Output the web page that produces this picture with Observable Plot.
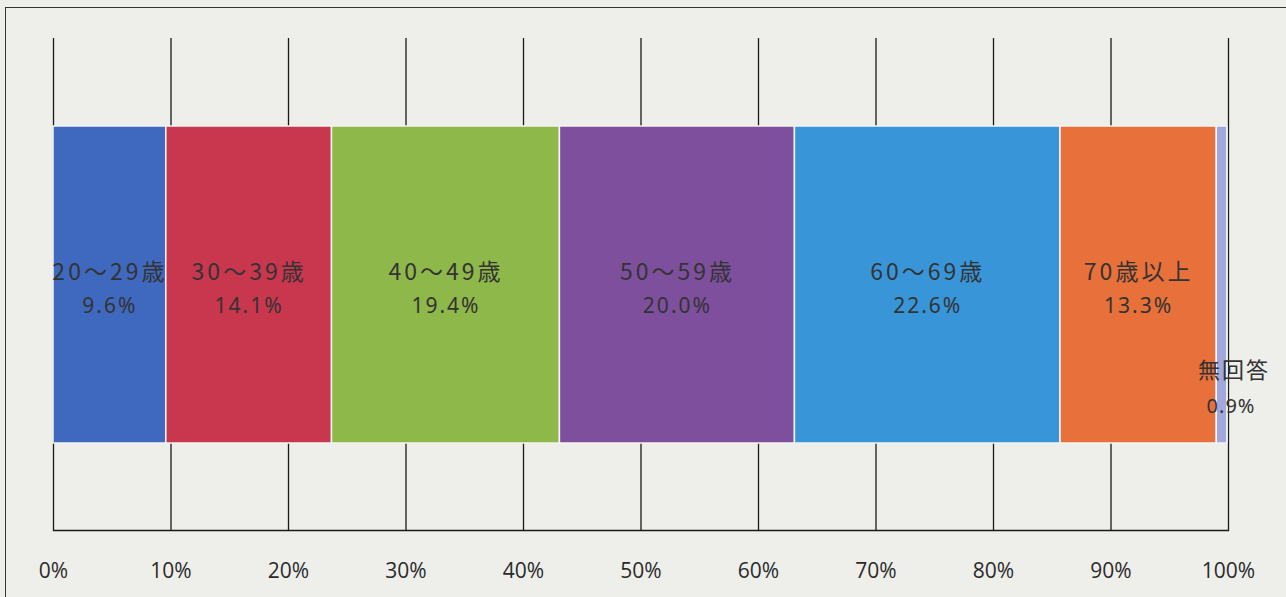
<!DOCTYPE html>
<html>
<head>
<meta charset="utf-8">
<script src="https://cdn.jsdelivr.net/npm/d3@7"></script>
<script src="https://cdn.jsdelivr.net/npm/@observablehq/plot@0.6"></script>
<style>
  html, body { margin: 0; padding: 0; background: #eeeeea; }
  #wrap { position: relative; width: 1286px; height: 597px; overflow: hidden; background: #eeeeea; }
  #frame { position: absolute; left: 5px; top: 7px; width: 1300px; height: 600px; border-left: 1.5px solid #333; border-top: 1.5px solid #333; }
  #chart { position: absolute; left: 0; top: 0; }
</style>
</head>
<body>
<div id="wrap"><div id="frame"></div><div id="chart"></div></div>
<script>
const categories = ["20～29歳", "30～39歳", "40～49歳", "50～59歳", "60～69歳", "70歳以上", "無回答"];
const values = [9.6, 14.1, 19.4, 20.0, 22.6, 13.3, 0.9];
const colors = ["#3f69bf", "#c9374f", "#8fb84a", "#7d4f9d", "#3895d8", "#e8703b", "#a0a8de"];
const tickValues = [0, 10, 20, 30, 40, 50, 60, 70, 80, 90, 100];
const tickLabels = ["0%", "10%", "20%", "30%", "40%", "50%", "60%", "70%", "80%", "90%", "100%"];

let cum = 0;
const rows = categories.map((c, i) => {
  const r = {cat: c, value: values[i], x1: cum, x2: cum + values[i], color: colors[i], grp: "回答者"};
  cum += values[i];
  r.mid = (r.x1 + r.x2) / 2;
  return r;
});
const main = rows.filter(d => d.cat !== "無回答");
const na = rows.filter(d => d.cat === "無回答");

const chart = Plot.plot({
  width: 1286,
  height: 597,
  marginLeft: 53,
  marginRight: 58,
  marginTop: 38,
  marginBottom: 67,
  style: {background: "transparent", overflow: "visible"},
  x: {domain: [0, 100]},
  y: {domain: ["回答者"], paddingInner: 0, paddingOuter: 0.276},
  color: {type: "identity"},
  marks: [
    Plot.gridX(tickValues, {stroke: "#1a1a1a", strokeOpacity: 1, strokeWidth: 1.3}),
    Plot.frame({anchor: "bottom", stroke: "#1a1a1a", strokeWidth: 1.3}),
    Plot.axisX(tickValues, {
      anchor: "bottom", tickSize: 0, tickPadding: 33,
      tickFormat: (d, i) => tickLabels[i],
      fontSize: 21, fontFamily: "Open Sans, Noto Sans, sans-serif", fill: "#2a2a2a", label: null
    }),
    Plot.axisY({ticks: [], label: null}),
    Plot.barX(rows, {x1: "x1", x2: "x2", y: "grp", fill: "color", stroke: "#f4f4f0", strokeWidth: 1.5}),
    Plot.text(main, {
      x: "mid", y: "grp", text: "cat", dy: -12,
      fontSize: 23, fontFamily: "Noto Sans CJK JP, sans-serif", fill: "#333"
    }),
    Plot.text(main, {
      x: "mid", y: "grp", text: d => d.value.toFixed(1) + "%", dy: 21,
      fontSize: 21, fontFamily: "Noto Sans, sans-serif", fill: "#333"
    }),
    Plot.text(na, {
      x: "mid", y: "grp", text: "cat", dy: 86, dx: 12,
      fontSize: 22, fontFamily: "Noto Sans CJK JP, sans-serif", fill: "#333"
    }),
    Plot.text(na, {
      x: "mid", y: "grp", text: d => d.value.toFixed(1) + "%", dy: 122, dx: 9,
      fontSize: 20, fontFamily: "Noto Sans, sans-serif", fill: "#333"
    })
  ]
});
const spacing = ["3px", "2px", "2px", "1px"];
d3.select(chart).selectAll('g[aria-label="text"]').each(function(_, i) {
  d3.select(this).style("letter-spacing", spacing[i] || "0px");
});
document.getElementById("chart").appendChild(chart);
</script>
</body>
</html>
